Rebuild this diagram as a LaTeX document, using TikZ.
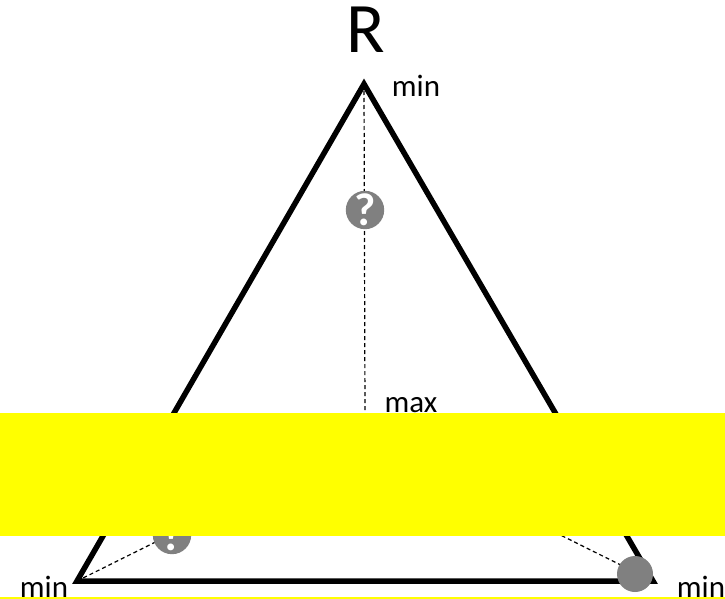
\documentclass[tikz,border=0pt]{standalone}
\usepackage{fontspec}
\setmainfont{Carlito}
\definecolor{bandyellow}{RGB}{255,255,0}
\definecolor{ballgray}{RGB}{128,128,128}
\begin{document}
\begin{tikzpicture}[x=1pt,y=-1pt,
  lbl/.style={font=\fontsize{31}{31}\selectfont, anchor=base, inner sep=0pt},
  dashln/.style={dash pattern=on 4pt off 3pt, line width=1.2pt},
  qball/.style={circle, fill=ballgray, minimum size=36pt, inner sep=0pt, text=white, font=\fontsize{46}{46}\selectfont\bfseries},
  band/.style={fill=bandyellow, draw=none}]
\useasboundingbox (0,0) rectangle (725,599);
\fill[white] (0,0) rectangle (725,599);
\coordinate (A) at (364,84);
\coordinate (B) at (77,581);
\coordinate (C) at (653,581);
\coordinate (M) at (365,415);
\coordinate (H) at (365,438);
\draw[dashln] (A) -- (M);
\draw[dashln] (B) -- (H);
\draw[dashln] (C) -- (H);
\draw[line width=5.5pt, line join=miter] (A) -- (B) -- (C) -- cycle;
\node[qball] (q1) at (365,210) {?};
\node[qball] (q2) at (172,535) {?};
\node[qball] (q3) at (635,574) {};
\node[font=\fontsize{71}{71}\selectfont, anchor=base, inner sep=0pt] (R) at (366,53) {R};
\node[lbl] (minA) at (416,97) {min};
\node[lbl] (maxM) at (411,412) {max};
\node[lbl] (minB) at (44,597) {min};
\node[lbl] (minC) at (701,597) {min};
\fill[band] (0,413) rectangle (725,536);
\fill[band] (0,597) rectangle (725,599);
\end{tikzpicture}
\end{document}
